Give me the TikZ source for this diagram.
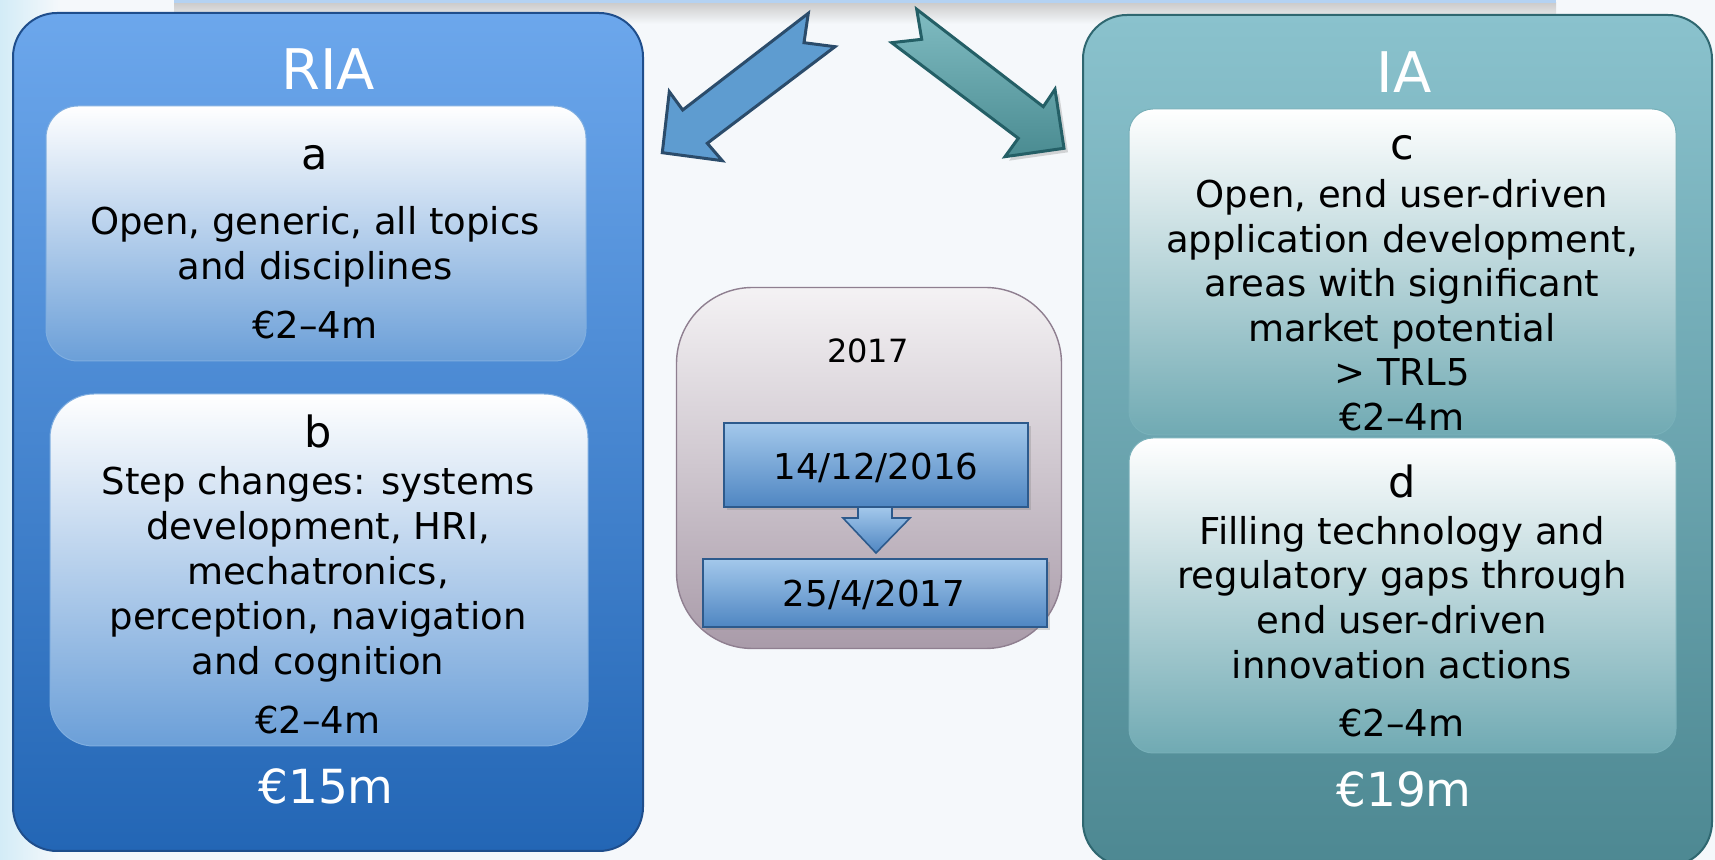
\documentclass[tikz,border=0pt]{standalone}
\usepackage{fontspec}
\setmainfont{DejaVu Sans}
\usetikzlibrary{shadows}
\definecolor{bgc}{HTML}{F5F8FB}
\definecolor{glow}{HTML}{D3ECF7}
\definecolor{barblue}{HTML}{B4D2F2}
\definecolor{riatop}{HTML}{6CA7EC}
\definecolor{riabot}{HTML}{2366B5}
\definecolor{riaedge}{HTML}{1F4E8C}
\definecolor{subbot}{HTML}{6B9FD8}
\definecolor{subedge}{HTML}{7FAEE0}
\definecolor{iatop}{HTML}{8AC2CD}
\definecolor{iabot}{HTML}{4D8892}
\definecolor{iaedge}{HTML}{2F6770}
\definecolor{cdbot}{HTML}{70AAB3}
\definecolor{cdedge}{HTML}{78B0B9}
\definecolor{midtop}{HTML}{F4F2F4}
\definecolor{midbot}{HTML}{A99BA9}
\definecolor{midedge}{HTML}{8F7F90}
\definecolor{datetop}{HTML}{A3C8EB}
\definecolor{datebot}{HTML}{4F86C2}
\definecolor{dateedge}{HTML}{2D5A8C}
\definecolor{larrow}{HTML}{5E9CD0}
\definecolor{larrowedge}{HTML}{2B4C6B}
\definecolor{rarrowtop}{HTML}{80BCC2}
\definecolor{rarrowbot}{HTML}{4A8B91}
\definecolor{rarrowedge}{HTML}{245F66}
\tikzset{
  bigbox/.style={draw, line width=1pt, rounded corners=22pt, shade},
  riabox/.style={bigbox, draw=riaedge, top color=riatop, bottom color=riabot},
  iabox/.style={bigbox, draw=iaedge, top color=iatop, bottom color=iabot},
  subbox/.style={shade, top color=white, bottom color=subbot, draw=subedge, line width=0.5pt},
  cdbox/.style={shade, top color=white, bottom color=cdbot, draw=cdedge, line width=0.5pt, rounded corners=12pt},
  midbox/.style={shade, top color=midtop, bottom color=midbot, draw=midedge, line width=0.7pt, rounded corners=38pt},
  datebox/.style={shade, top color=datetop, bottom color=datebot, draw=dateedge, line width=1pt,
    drop shadow={opacity=0.3, shadow xshift=1.5pt, shadow yshift=-1.5pt}},
  body/.style={anchor=base, inner sep=0pt, font=\fontsize{18.5}{22}\selectfont},
  letter/.style={anchor=base, inner sep=0pt, font=\fontsize{21.5}{25}\selectfont},
  title/.style={anchor=base, inner sep=0pt, text=white, font=\fontsize{28}{32}\selectfont},
  total/.style={anchor=base, inner sep=0pt, text=white, font=\fontsize{23.5}{28}\selectfont},
  datetext/.style={anchor=base, inner sep=0pt, font=\fontsize{17.8}{20}\selectfont},
  yeartext/.style={anchor=base, inner sep=0pt, font=\fontsize{16}{19}\selectfont},
}
\begin{document}
\begin{tikzpicture}[x=0.5pt, y=-0.5pt]
\useasboundingbox (0,0) rectangle (1715,860);
% background
\fill[bgc] (0,0) rectangle (1715,860);
\shade[left color=glow, right color=bgc] (0,0) rectangle (60,860);
\shade[top color=gray!40, bottom color=bgc] (174,3) rectangle (1556,24);
\fill[barblue] (174,0) rectangle (1556,3);

% RIA column
\node[riabox, minimum width=315pt, minimum height=419pt] (RIA) at (328,432) {};
\node[subbox, rounded corners=16pt, minimum width=270pt, minimum height=127.5pt] (boxa) at (316,233.5) {};
\node[subbox, rounded corners=22pt, minimum width=269pt, minimum height=176pt] (boxb) at (319,570) {};
\node[title] (tRIA) at (328,90) {RIA};
\node[letter] (la) at (315,170) {a};
\node[body] (a1) at (315,235) {Open, generic, all topics};
\node[body] (a2) at (315,280) {and disciplines};
\node[body] (a3) at (315,339) {€2–4m};
\node[letter] (lb) at (318,448) {b};
\node[body] (b1) at (318,495) {Step changes: systems};
\node[body] (b2) at (318,540) {development, HRI,};
\node[body] (b3) at (318,585) {mechatronics,};
\node[body] (b4) at (318,630) {perception, navigation};
\node[body] (b5) at (318,675) {and cognition};
\node[body] (b6) at (318,734) {€2–4m};
\node[total] (t15) at (326,804) {€15m};

% IA column
\node[iabox, minimum width=314.5pt, minimum height=425.5pt] (IA) at (1397.5,440.5) {};
\node[cdbox, minimum width=273.5pt, minimum height=163pt] (boxc) at (1402.5,272) {};
\node[cdbox, minimum width=273.5pt, minimum height=157.5pt] (boxd) at (1402.5,595.5) {};
\node[title] (tIA) at (1404,93) {IA};
\node[letter] (lc) at (1402,160) {c};
\node[body] (c1) at (1402,208) {Open, end user-driven};
\node[body] (c2) at (1402,253) {application development,};
\node[body] (c3) at (1402,297) {areas with significant};
\node[body] (c4) at (1402,342) {market potential};
\node[body] (c5) at (1402,386) {> TRL5};
\node[body] (c6) at (1402,431) {€2–4m};
\node[letter] (ld) at (1402,498) {d};
\node[body] (d1) at (1402,545) {Filling technology and};
\node[body] (d2) at (1402,589) {regulatory gaps through};
\node[body] (d3) at (1402,634) {end user-driven};
\node[body] (d4) at (1402,679) {innovation actions};
\node[body] (d5) at (1402,737) {€2–4m};
\node[total] (t19) at (1404,807) {€19m};

% centre timeline
\node[midbox, minimum width=192.5pt, minimum height=180.5pt] (mid) at (869,468) {};
\node[yeartext] (year) at (868,363) {2017};
\node[datebox, minimum width=152pt, minimum height=42pt] (d16) at (876,465) {};
\node[datetext] (d16t) at (876,480) {14/12/2016};
\shade[top color=datetop, bottom color=datebot, draw=dateedge, line width=0.8pt]
  (858,507) -- (892,507) -- (892,518) -- (910,518) -- (876,553) -- (843,518) -- (858,518) -- cycle;
\node[datebox, minimum width=172pt, minimum height=34pt] (d17) at (874.5,593) {};
\node[datetext] (d17t) at (874,607) {25/4/2017};

% big arrows
\fill[larrow, draw=larrowedge, line width=1.5pt, line join=miter]
  (808.3,13.3) -- (682.7,110) -- (669.3,91.7) -- (662.3,152.7) -- (722.3,160.7)
  -- (707.3,143.3) -- (835,46.7) -- (804,42.7) -- cycle;
\shade[top color=rarrowtop, bottom color=rarrowbot, draw=rarrowedge, line width=1.5pt,
  drop shadow={opacity=0.3, shadow xshift=2pt, shadow yshift=-2pt}]
  (916.7,9.3) -- (1043.3,106.7) -- (1055,89.3) -- (1064,148.3) -- (1005,156.7)
  -- (1018.3,138.3) -- (891.7,42.7) -- (921.7,39.3) -- cycle;
\end{tikzpicture}
\end{document}
